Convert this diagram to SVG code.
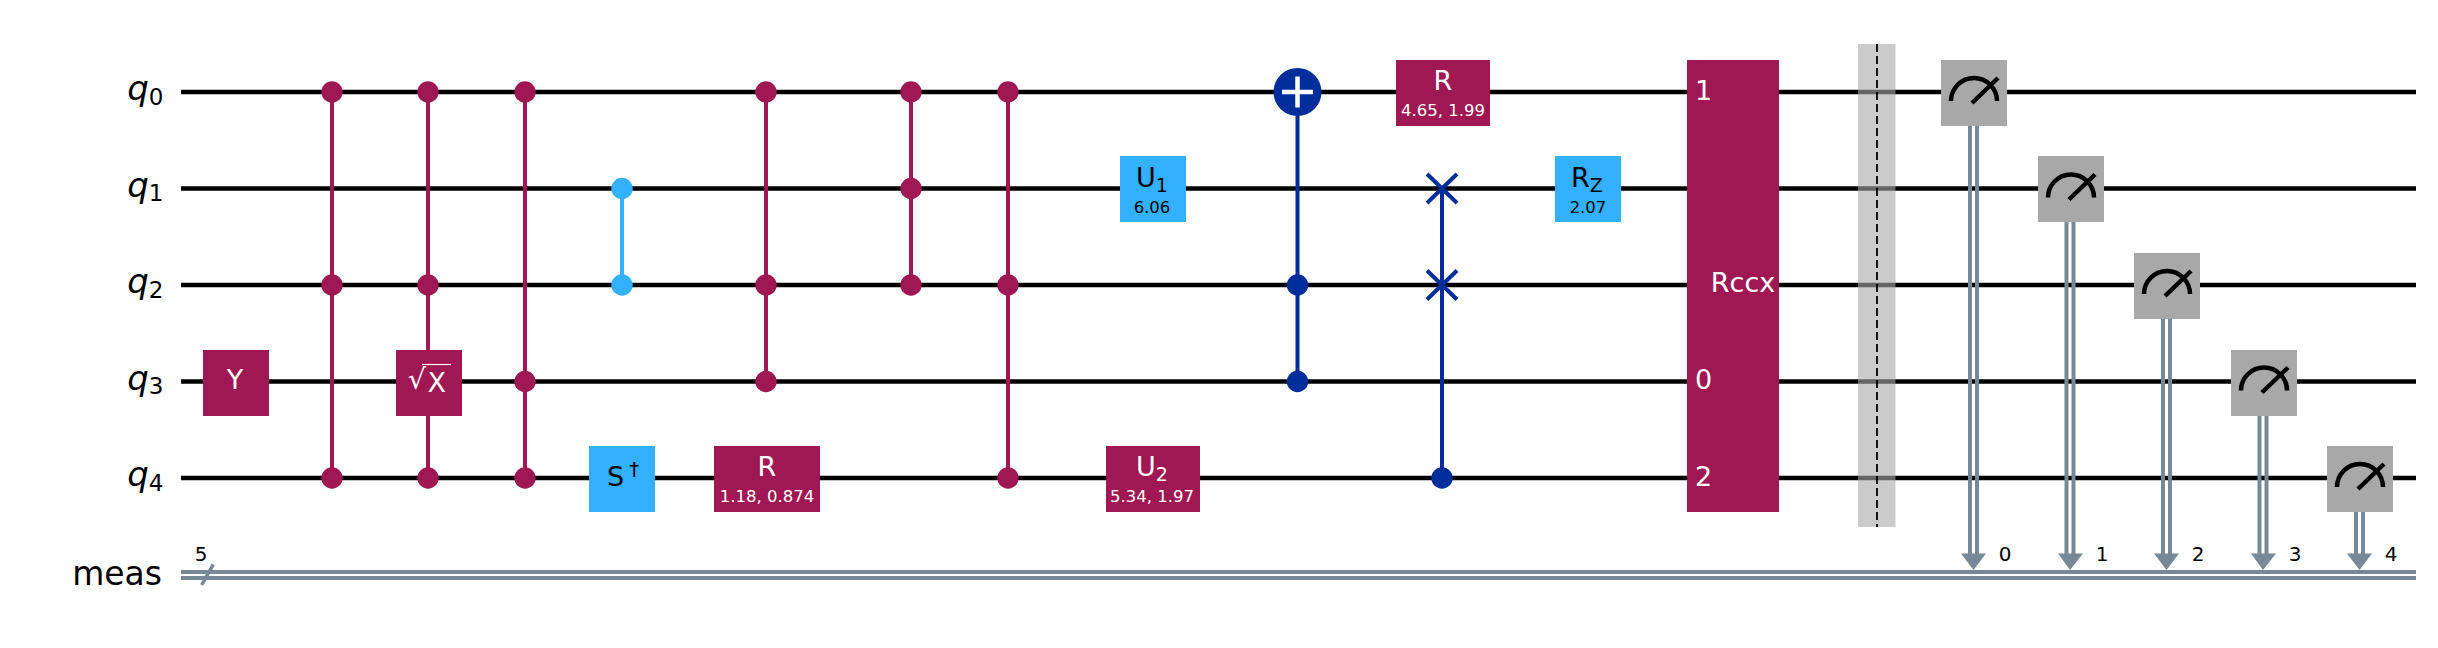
<svg xmlns="http://www.w3.org/2000/svg" width="2438" height="648" viewBox="0 0 2438 648">
<style>
text{font-family:"DejaVu Sans",sans-serif;}
.w{stroke:#000;stroke-width:4.5;fill:none}
.c{stroke:#778899;stroke-width:4;fill:none}
.p{stroke:#9f1853;stroke-width:4;fill:none}
.l{stroke:#33b1ff;stroke-width:4;fill:none}
.d{stroke:#002d9c;stroke-width:4;fill:none}
.fp{fill:#9f1853}.fl{fill:#33b1ff}.fd{fill:#002d9c}.fg{fill:#a8a8a8}
.lab{font-size:34px;fill:#000;text-anchor:end}
.i{font-style:italic}
.s{font-size:23px}
.t{font-size:27px;text-anchor:middle;fill:#fff}
.tk{fill:#000}
.st{font-size:16.5px;text-anchor:middle;fill:#fff}
.n{font-size:20px;fill:#000;text-anchor:middle}
.m{stroke:#000;stroke-width:4.5;fill:none}
.sw{stroke:#002d9c;stroke-width:4;fill:none}
</style>
<rect width="2438" height="648" fill="#fff"/>
<g id="wires">
<line class="w" x1="181" y1="92" x2="2416" y2="92"/>
<line class="w" x1="181" y1="188.5" x2="2416" y2="188.5"/>
<line class="w" x1="181" y1="285" x2="2416" y2="285"/>
<line class="w" x1="181" y1="381.5" x2="2416" y2="381.5"/>
<line class="w" x1="181" y1="478" x2="2416" y2="478"/>
<line class="c" x1="181" y1="572" x2="2416" y2="572"/>
<line class="c" x1="181" y1="578" x2="2416" y2="578"/>
</g>
<g id="labels">
<text class="lab" x="163.500" y="100"><tspan class="i">q</tspan><tspan class="s" dy="4.500">0</tspan></text>
<text class="lab" x="163.500" y="196.500"><tspan class="i">q</tspan><tspan class="s" dy="4.500">1</tspan></text>
<text class="lab" x="163.500" y="293"><tspan class="i">q</tspan><tspan class="s" dy="4.500">2</tspan></text>
<text class="lab" x="163.500" y="389.500"><tspan class="i">q</tspan><tspan class="s" dy="4.500">3</tspan></text>
<text class="lab" x="163.500" y="486"><tspan class="i">q</tspan><tspan class="s" dy="4.500">4</tspan></text>
<text class="lab" style="font-size:33px" x="162" y="585">meas</text>
</g>
<g id="connectors">
<line class="p" x1="332" y1="92" x2="332" y2="478"/>
<line class="p" x1="428" y1="92" x2="428" y2="478"/>
<line class="p" x1="525" y1="92" x2="525" y2="478"/>
<line class="l" x1="622" y1="188.500" x2="622" y2="285"/>
<line class="p" x1="766" y1="92" x2="766" y2="381.500"/>
<line class="p" x1="911" y1="92" x2="911" y2="285"/>
<line class="p" x1="1008" y1="92" x2="1008" y2="478"/>
<line class="d" x1="1297.500" y1="92" x2="1297.500" y2="381.500"/>
<line class="d" x1="1442" y1="188.500" x2="1442" y2="478"/>
<g class="c">
<path d="M1970 126V556M1977 126V556"/>
<path d="M2066.500 222V556M2073.500 222V556"/>
<path d="M2163 319V556M2170 319V556"/>
<path d="M2259.500 415V556M2266.500 415V556"/>
<path d="M2356 512V556M2363 512V556"/>
</g>
<line x1="201.700" y1="585" x2="213.300" y2="564.300" stroke="#778899" stroke-width="3.500"/>
</g>
<g id="arrowheads" fill="#778899">
<path d="M1961 553.500H1986L1973.500 570Z"/>
<path d="M2058 553.500H2083L2070 570Z"/>
<path d="M2154 553.500H2179L2166.500 570Z"/>
<path d="M2251 553.500H2276L2263 570Z"/>
<path d="M2347 553.500H2372L2359.500 570Z"/>
</g>
<g id="n5"><text class="n" x="201" y="560.700">5</text></g>
<g id="y3"><rect class="fp" x="203" y="350" width="66" height="66"/><text class="t" x="235" y="389">Y</text></g>
<g id="ccz1" class="fp"><circle cx="332" cy="92" r="10.700"/><circle cx="332" cy="285" r="10.700"/><circle cx="332" cy="478" r="10.700"/></g>
<g id="csx"><circle class="fp" cx="428" cy="92" r="10.700"/><circle class="fp" cx="428" cy="285" r="10.700"/><circle class="fp" cx="428" cy="478" r="10.700"/><rect class="fp" x="396" y="350" width="66" height="66"/><text class="t" style="text-anchor:start" x="408" y="392"><tspan style="font-size:28px" dy="-3">√</tspan><tspan x="427.500" dy="3">X</tspan></text><line x1="422" y1="364.500" x2="451" y2="364.500" stroke="#fff" stroke-width="1.200"/></g>
<g id="ccz2" class="fp"><circle cx="525" cy="92" r="10.700"/><circle cx="525" cy="381.500" r="10.700"/><circle cx="525" cy="478" r="10.700"/></g>
<g id="cz-light" class="fl"><circle cx="622" cy="188.500" r="10.700"/><circle cx="622" cy="285" r="10.700"/></g>
<g id="sdg"><rect class="fl" x="589" y="446" width="66" height="66"/><text class="t tk" style="text-anchor:start" x="607" y="486">S<tspan style="font-size:20px" dx="5" dy="-10">†</tspan></text></g>
<g id="r1"><rect class="fp" x="714" y="446" width="106" height="66"/><text class="t" x="767" y="476">R</text><text class="st" x="767" y="502.300">1.18, 0.874</text></g>
<g id="ccc" class="fp"><circle cx="766" cy="92" r="10.700"/><circle cx="766" cy="285" r="10.700"/><circle cx="766" cy="381.500" r="10.700"/></g>
<g id="ccz3" class="fp"><circle cx="911" cy="92" r="10.700"/><circle cx="911" cy="188.500" r="10.700"/><circle cx="911" cy="285" r="10.700"/></g>
<g id="ccz4" class="fp"><circle cx="1008" cy="92" r="10.700"/><circle cx="1008" cy="285" r="10.700"/><circle cx="1008" cy="478" r="10.700"/></g>
<g id="u1"><rect class="fl" x="1120" y="156" width="66" height="66"/><text class="t tk" x="1152" y="187">U<tspan style="font-size:19px" dy="5">1</tspan></text><text class="st" x="1152" y="213" style="fill:#000">6.06</text></g>
<g id="u2"><rect class="fp" x="1106" y="446" width="94" height="66"/><text class="t" x="1152" y="476">U<tspan style="font-size:19px" dy="5">2</tspan></text><text class="st" x="1152" y="502.300">5.34, 1.97</text></g>
<g id="cx"><circle class="fd" cx="1297.500" cy="92" r="24"/><path d="M1282 92H1313M1297.500 76.500V107.500" stroke="#fff" stroke-width="4.500" fill="none"/><circle class="fd" cx="1297.500" cy="285" r="10.700"/><circle class="fd" cx="1297.500" cy="381.500" r="10.700"/></g>
<g id="r2"><rect class="fp" x="1396" y="60" width="94" height="66"/><text class="t" x="1443" y="90">R</text><text class="st" x="1443" y="116">4.65, 1.99</text></g>
<g id="swap"><path class="sw" d="M1427 174L1457 203M1457 174L1427 203M1427 270.500L1457 299.500M1457 270.500L1427 299.500"/><circle class="fd" cx="1442" cy="478" r="10.700"/></g>
<g id="rz"><rect class="fl" x="1555" y="156" width="66" height="66"/><text class="t tk" x="1587" y="187">R<tspan style="font-size:19px" dy="5">Z</tspan></text><text class="st" x="1588" y="213" style="fill:#000">2.07</text></g>
<g id="rccx"><rect class="fp" x="1687" y="60" width="92" height="452"/>
<text class="t" style="text-anchor:start" x="1695" y="100">1</text><text class="t" style="text-anchor:start" x="1695" y="389">0</text><text class="t" style="text-anchor:start" x="1695" y="486">2</text><text class="t" x="1743" y="292">Rccx</text></g>
<g id="barrier"><rect x="1858" y="44" width="37.500" height="483" fill="#a8a8a8" fill-opacity="0.6"/><line x1="1877" y1="44" x2="1877" y2="527" stroke="#000" stroke-width="1.800" stroke-dasharray="8 4"/></g>
<g id="m0"><rect class="fg" x="1941" y="60" width="66" height="66"/><path class="m" d="M1951 101A23 23 0 0 1 1997 101M1972 103L1998 78"/></g>
<g id="m1"><rect class="fg" x="2038" y="156" width="66" height="66"/><path class="m" d="M2048 197.500A23 23 0 0 1 2094 197.500M2069 199.500L2095 174.500"/></g>
<g id="m2"><rect class="fg" x="2134" y="253" width="66" height="66"/><path class="m" d="M2144 294A23 23 0 0 1 2190 294M2165 296L2191 271"/></g>
<g id="m3"><rect class="fg" x="2231" y="350" width="66" height="66"/><path class="m" d="M2241 390.500A23 23 0 0 1 2287 390.500M2262 392.500L2288 367.500"/></g>
<g id="m4"><rect class="fg" x="2327" y="446" width="66" height="66"/><path class="m" d="M2337 487A23 23 0 0 1 2383 487M2358 489L2384 464"/></g>
<g id="bits"><text class="n" x="2005" y="560.700">0</text><text class="n" x="2102" y="560.700">1</text><text class="n" x="2198" y="560.700">2</text><text class="n" x="2295" y="560.700">3</text><text class="n" x="2391" y="560.700">4</text></g>
</svg>
